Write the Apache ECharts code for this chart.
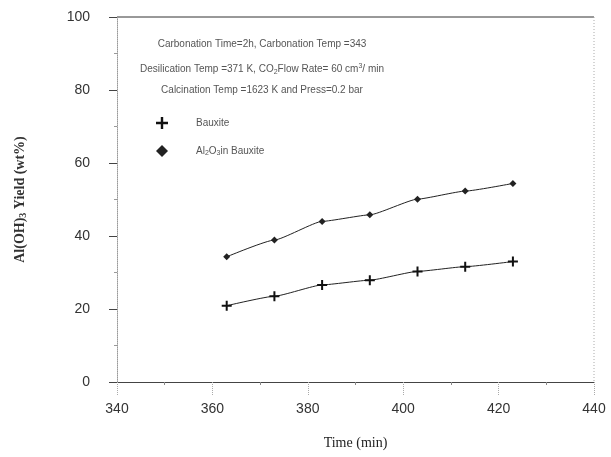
<!DOCTYPE html>
<html>
<head>
<meta charset="utf-8">
<script src="https://cdn.jsdelivr.net/npm/echarts@6/dist/echarts.min.js"></script>
<style>
  html, body { margin: 0; padding: 0; background: #ffffff; }
  #chart { width: 611px; height: 457px; }
</style>
</head>
<body>
<div id="chart"></div>
<script>
// Sampling times (min)
const times = [363, 373, 383, 393, 403, 413, 423];
// Al(OH)3 yield, wt%
const bauxiteYield = [20.9, 23.5, 26.6, 27.9, 30.3, 31.6, 33.0];
const aluminaYield = [34.3, 38.9, 44.0, 45.8, 50.1, 52.3, 54.4];
// Axis ticks
const xTicks = [340, 360, 380, 400, 420, 440];
const yTicks = [0, 20, 40, 60, 80, 100];

const pair = (xs, ys) => xs.map((x, i) => [x, ys[i]]);
const plusPath = 'path://M4,0h2v4h4v2h-4v4h-2v-4h-4v-2h4z';

const chart = echarts.init(document.getElementById('chart'), null, { renderer: 'canvas' });

const axisLabelFont = { color: '#333', fontSize: 14, fontFamily: 'Liberation Sans, Arial, sans-serif' };
const noteFont = { fontFamily: 'Liberation Sans, Arial, sans-serif', fontSize: 10, fill: '#555' };

chart.setOption({
  backgroundColor: '#ffffff',
  animation: false,
  grid: { left: 117, right: 17, top: 17, bottom: 75 },
  xAxis: {
    type: 'value',
    min: xTicks[0], max: xTicks[xTicks.length - 1], interval: 20,
    name: 'Time (min)', nameLocation: 'middle', nameGap: 54,
    nameTextStyle: { fontFamily: 'Liberation Serif, Times New Roman, serif', fontSize: 14, color: '#222' },
    axisLine: { lineStyle: { color: '#444', width: 1 } },
    axisTick: { show: true, inside: false, length: 14, lineStyle: { color: '#aaa', type: 'dotted' } },
    minorTick: { show: true, splitNumber: 2, length: 3, lineStyle: { color: '#888' } },
    axisLabel: Object.assign({ margin: 20 }, axisLabelFont),
    splitLine: { show: false }
  },
  yAxis: {
    type: 'value',
    min: yTicks[0], max: yTicks[yTicks.length - 1], interval: 20,
    name: 'Al(OH){s|3} Yield (wt%)', nameLocation: 'middle', nameGap: 89,
    nameTextStyle: {
      fontFamily: 'Liberation Serif, Times New Roman, serif', fontSize: 14, fontWeight: 'bold', color: '#333',
      rich: { s: { fontFamily: 'Liberation Serif, serif', fontSize: 10, fontWeight: 'bold', color: '#333', verticalAlign: 'bottom', padding: [6, 0, 0, 0] } }
    },
    axisLine: { show: true, lineStyle: { color: '#999', width: 1, type: 'dotted' } },
    axisTick: { show: true, inside: false, length: 8, lineStyle: { color: '#444' } },
    minorTick: { show: true, splitNumber: 2, length: 3, lineStyle: { color: '#999' } },
    axisLabel: Object.assign({ margin: 27 }, axisLabelFont),
    splitLine: { show: false }
  },
  legend: {
    orient: 'vertical',
    left: 151, top: 112,
    itemGap: 16,
    itemWidth: 12, itemHeight: 12,
    textStyle: {
      fontFamily: 'Liberation Sans, Arial, sans-serif', fontSize: 10, color: '#555',
      padding: [0, 0, 0, 23],
      rich: { s: { fontSize: 7, color: '#555', verticalAlign: 'bottom', padding: [5, 0, 0, 0] } }
    },
    formatter: name => name === 'Al2O3 in Bauxite' ? 'Al{s|2}O{s|3}in Bauxite' : name,
    data: [
      { name: 'Bauxite', icon: plusPath, itemStyle: { color: '#111' } },
      { name: 'Al2O3 in Bauxite', icon: 'diamond', itemStyle: { color: '#222' } }
    ]
  },
  graphic: [
    // top border of the plot frame
    { type: 'line', shape: { x1: 117, y1: 17, x2: 594, y2: 17 }, style: { stroke: '#333', lineWidth: 1 }, silent: true },
    // right border of the plot frame
    { type: 'line', shape: { x1: 594, y1: 17, x2: 594, y2: 382 }, style: { stroke: '#aaa', lineWidth: 1, lineDash: [1, 2] }, silent: true },
    {
      type: 'text', x: 262, y: 44,
      style: Object.assign({ text: 'Carbonation Time=2h, Carbonation Temp =343', textAlign: 'center', textVerticalAlign: 'middle' }, noteFont)
    },
    {
      type: 'text', x: 262, y: 69,
      style: Object.assign({
        text: 'Desilication Temp =371 K, CO{s|2}Flow Rate= 60 cm{p|3}/ min', textAlign: 'center', textVerticalAlign: 'middle',
        rich: {
          s: { fontSize: 7, fill: '#555', fontFamily: 'Liberation Sans, Arial, sans-serif', padding: [6, 0, 0, 0] },
          p: { fontSize: 7, fill: '#555', fontFamily: 'Liberation Sans, Arial, sans-serif', padding: [0, 0, 6, 0] }
        }
      }, noteFont)
    },
    {
      type: 'text', x: 262, y: 90,
      style: Object.assign({ text: 'Calcination Temp =1623 K and Press=0.2 bar', textAlign: 'center', textVerticalAlign: 'middle' }, noteFont)
    }
  ],
  series: [
    {
      name: 'Bauxite', type: 'line',
      data: pair(times, bauxiteYield),
      smooth: 0.15, smoothMonotone: 'x',
      symbol: plusPath, symbolSize: 10,
      itemStyle: { color: '#111' },
      lineStyle: { color: '#222', width: 1 }
    },
    {
      name: 'Al2O3 in Bauxite', type: 'line',
      data: pair(times, aluminaYield),
      smooth: 0.15, smoothMonotone: 'x',
      symbol: 'diamond', symbolSize: 7,
      itemStyle: { color: '#222' },
      lineStyle: { color: '#222', width: 1 }
    }
  ]
});
</script>
</body>
</html>
